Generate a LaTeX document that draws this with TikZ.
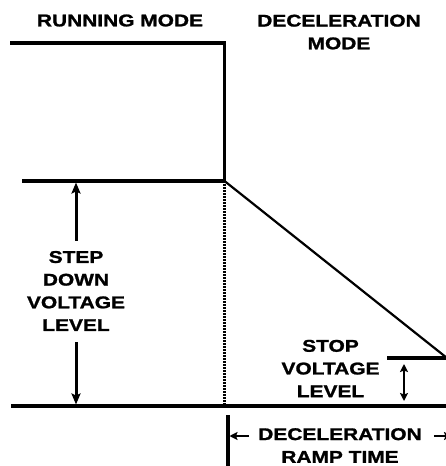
\documentclass[tikz,border=0pt]{standalone}
\usepackage{fontspec}
\setmainfont{Liberation Sans}[FakeStretch=1.23, FakeBold=1.3]
\usetikzlibrary{arrows.meta, calc, positioning}

\begin{document}
\begin{tikzpicture}[x=1pt, y=-1pt,
        level/.style={line width=3.2pt},
        lbl/.style={font=\fontsize{17}{22.7}\selectfont\bfseries, align=center, inner sep=0pt},
        bigarrow/.style={line width=3pt, -{Stealth[length=11pt, width=9pt, inset=2pt]}},
        smallarrow/.style={line width=2.6pt, {Stealth[length=8pt, width=8pt, inset=1.5pt]}-{Stealth[length=8pt, width=8pt, inset=1.5pt]}},
        ramparrow/.style={line width=2.4pt, -{Stealth[length=8pt, width=8pt, inset=1.5pt]}}]
    \useasboundingbox (0,0) rectangle (446,466);

    % mode headings
    \node[lbl] (running) at (120,20.5) {RUNNING MODE};
    \node[lbl, anchor=north] (decel) at (339,14.5) {DECELERATION\\MODE};

    % corner points of the voltage trace
    \coordinate (runstart) at (10,43);
    \coordinate (runend) at (224.5,43);
    \coordinate (drop) at (224.5,181);
    \coordinate (stepstart) at (22,181);
    \coordinate (baseleft) at (11,406);
    \coordinate (baseright) at (446,406);
    \coordinate (rampend) at (447,358);
    \coordinate (stopstart) at (387,358);

    \draw[level, line join=miter] (runstart) -- (runend) -- (drop);
    \draw[level] (stepstart) -- (drop);
    \draw[line width=2.2pt] (drop) -- (rampend);
    \draw[level] (stopstart) -- (rampend);
    \draw[level] (baseleft) -- (baseright);
    \draw[line width=2.2pt, dash pattern=on 1.5pt off 1.5pt] (drop) -- (drop |- baseleft);

    % step down level
    \node[lbl] (stepdown) at (76,291) {STEP\\DOWN\\VOLTAGE\\LEVEL};
    \draw[bigarrow, shorten >=1.5pt] ([yshift=10pt]stepdown.north) -- (stepdown.north |- stepstart);
    \draw[bigarrow, shorten >=1.5pt] ([yshift=-11pt]stepdown.south) -- (stepdown.south |- baseleft);

    % stop level
    \node[lbl] (stoplevel) at (330.5,368.5) {STOP\\VOLTAGE\\LEVEL};
    \coordinate (stoptick) at (404,358);
    \draw[smallarrow, shorten <=6pt, shorten >=5pt] (stoptick) -- (stoptick |- baseleft);

    % ramp time
    \coordinate (rampbar) at (228,415);
    \draw[level] (rampbar) -- ++(0,53);
    \node[lbl, anchor=north] (ramptime) at (340,428) {DECELERATION\\RAMP TIME};
    \coordinate (rampleft) at (229.5,436);
    \coordinate (rampright) at (452,436);
    \draw[ramparrow] ($(ramptime.west |- rampleft)+(-9,0)$) -- (rampleft);
    \draw[ramparrow] ($(ramptime.east |- rampright)+(12,0)$) -- (rampright);
\end{tikzpicture}
\end{document}
